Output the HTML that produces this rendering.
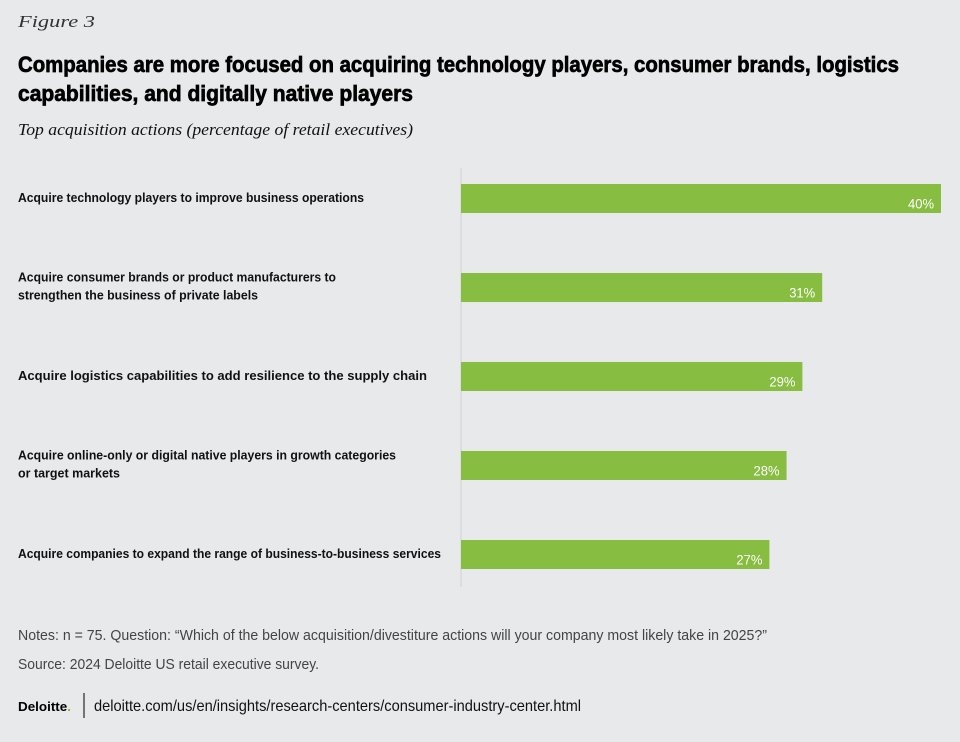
<!DOCTYPE html>
<html><head><meta charset="utf-8"><style>
html,body{margin:0;padding:0;background:#e8e9eb;}
svg{display:block;font-family:"Liberation Sans Narrow","Liberation Sans",sans-serif;}
</style></head><body>
<svg id="chart" width="960" height="742" viewBox="0 0 960 742" xmlns="http://www.w3.org/2000/svg">
<rect x="0" y="0" width="960" height="742" fill="#e8e9eb"/>
<text x="18" y="27" font-family="Liberation Serif,serif" font-style="italic" font-size="17" fill="#333" textLength="77" lengthAdjust="spacingAndGlyphs">Figure 3</text>
<text x="18" y="72" font-size="22" font-weight="bold" fill="#000" stroke="#000" stroke-width="0.7" textLength="881" lengthAdjust="spacingAndGlyphs">Companies are more focused on acquiring technology players, consumer brands, logistics</text>
<text x="18" y="101" font-size="22" font-weight="bold" fill="#000" stroke="#000" stroke-width="0.7" textLength="395" lengthAdjust="spacingAndGlyphs">capabilities, and digitally native players</text>
<text x="18" y="135" font-family="Liberation Serif,serif" font-style="italic" font-size="17" fill="#111" textLength="395" lengthAdjust="spacingAndGlyphs">Top acquisition actions (percentage of retail executives)</text>
<line x1="461" y1="168" x2="461" y2="587" stroke="#cfd1d3" stroke-width="1"/>
<g id="labels"></g>
<g id="bars"></g>
<text x="18" y="640" font-size="15" fill="#444" textLength="749" lengthAdjust="spacingAndGlyphs">Notes: n = 75. Question: “Which of the below acquisition/divestiture actions will your company most likely take in 2025?”</text>
<text x="18" y="669" font-size="15" fill="#444" textLength="301" lengthAdjust="spacingAndGlyphs">Source: 2024 Deloitte US retail executive survey.</text>
<text x="18" y="711" font-size="13" font-weight="bold" fill="#000" textLength="53" lengthAdjust="spacingAndGlyphs">Deloitte<tspan fill="#86bc25">.</tspan></text>
<line x1="84" y1="693" x2="84" y2="718" stroke="#000" stroke-width="1"/>
<text x="94" y="711" font-size="16" fill="#111" textLength="487" lengthAdjust="spacingAndGlyphs">deloitte.com/us/en/insights/research-centers/consumer-industry-center.html</text>
</svg>
<script>
const categories = [
  ["Acquire technology players to improve business operations"],
  ["Acquire consumer brands or product manufacturers to","strengthen the business of private labels"],
  ["Acquire logistics capabilities to add resilience to the supply chain"],
  ["Acquire online-only  or digital native players in growth categories","or target markets"],
  ["Acquire companies to expand the range of business-to-business services"]
];
const values = [40, 31, 29.5, 28.3, 27];
const valueLabels = ["40%", "31%", "29%", "28%", "27%"];
const labelWidths = [[346],[318,240],[409],[378,102],[423]];

const NS = "http://www.w3.org/2000/svg";
const x0 = 461, x1 = 941, dMin = 3.64, dMax = 40;
function xScale(v){ return x0 + (v - dMin) / (dMax - dMin) * (x1 - x0); }
function yCenter(i){ return 198.5 + i * 89; }
const barH = 29;
const gb = document.getElementById('bars');
const gl = document.getElementById('labels');
values.forEach((v, i) => {
  const cy = yCenter(i);
  const r = document.createElementNS(NS, 'rect');
  
  
  r.setAttribute('x', x0);
  r.setAttribute('y', cy - barH / 2);
  r.setAttribute('width', xScale(v) - x0);
  r.setAttribute('height', barH);
  r.setAttribute('fill', '#87bd40');
  gb.appendChild(r);
  const t = document.createElementNS(NS, 'text');
  
  
  t.setAttribute('x', xScale(v) - 7);
  t.setAttribute('y', cy + 10);
  t.setAttribute('text-anchor', 'end');
  t.setAttribute('font-size', '14');
  t.setAttribute('fill', '#fff');
  t.setAttribute('textLength', '26');
  t.setAttribute('lengthAdjust', 'spacingAndGlyphs');
  t.textContent = valueLabels[i];
  gb.appendChild(t);
  const lines = categories[i];
  lines.forEach((ln, j) => {
    const lt = document.createElementNS(NS, 'text');
    
    
    lt.setAttribute('x', 18);
    const by = lines.length === 1 ? cy + 3.5 : cy - 6 + j * 18;
    lt.setAttribute('y', by);
    lt.setAttribute('font-size', '13');
    lt.setAttribute('font-weight', 'bold');
    lt.setAttribute('fill', '#111');
    lt.setAttribute('textLength', labelWidths[i][j]);
    lt.setAttribute('lengthAdjust', 'spacingAndGlyphs');
    lt.textContent = ln;
    gl.appendChild(lt);
  });
});
</script>
</body></html>
